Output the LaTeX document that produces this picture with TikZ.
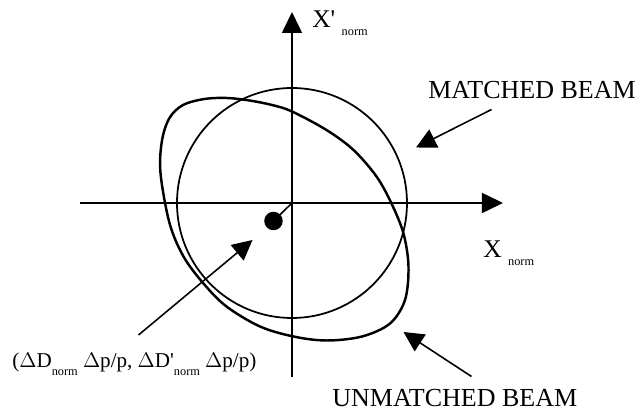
\documentclass[tikz,border=0pt]{standalone}
\usepackage{fontspec}
\setmainfont{Liberation Serif}
\usetikzlibrary{arrows.meta}
\newcommand{\nsub}[1]{\raisebox{-4.5pt}{\fontsize{7}{8}\selectfont #1}}

\begin{document}
\begin{tikzpicture}[
        axis/.style={line width=0.9pt, -{Triangle[length=0.42cm,width=0.4cm]}},
        pointer/.style={line width=0.9pt, -{Triangle[length=0.4cm,width=0.4cm]}},
        lbl/.style={inner sep=0, anchor=base west, font=\fontsize{12}{14}\selectfont},
        axislbl/.style={inner sep=0, anchor=base west, font=\fontsize{14.5}{17}\selectfont},
        beamlbl/.style={inner sep=0, anchor=base west, font=\fontsize{14.8}{17}\selectfont}]
    \useasboundingbox (-5.84,-4.14) rectangle (7.02,4.06);
    % axes
    \coordinate (O) at (0,0);
    \coordinate (xmin) at (-4.24,0);
    \coordinate (xmax) at (4.22,0);
    \coordinate (ymin) at (0,-3.48);
    \coordinate (ymax) at (0,3.82);
    \draw [axis] (xmin) -- (xmax);
    \draw [axis] (ymin) -- (ymax);
    \node [axislbl] (xlabel) at (3.82,-1.1) {X\ \nsub{norm}};
    \node [axislbl] (ylabel) at (0.4,3.5) {X\textquotesingle\ \nsub{norm}};
    % matched beam
    \draw [line width=1pt] (O) circle (2.3);
    % unmatched beam
    \draw [line width=1.4pt] plot [smooth cycle, tension=0.55] coordinates {(-2.63,0.6) (-2.6,1.25) (-2.45,1.7) (-2.18,1.96) (-1.75,2.08) (-1.3,2.1) (-0.85,2.05) (-0.4,1.96) (0,1.83) (0.69,1.46) (1.23,1.06) (1.69,0.53) (1.99,-0.01) (2.23,-0.61) (2.33,-1.27) (2.26,-1.94) (1.96,-2.41) (1.4,-2.67) (0.69,-2.75) (0.03,-2.67) (-0.64,-2.47) (-1.31,-2.07) (-1.77,-1.61) (-2.17,-1.07) (-2.45,-0.4)};
    % dispersion offset
    \node [circle, fill, inner sep=0, minimum size=0.37cm] (dot) at (-0.37,-0.36) {};
    \draw [line width=0.9pt] (dot.center) -- (O);
    % labels and pointers
    \node [beamlbl] (matched) at (2.72,2.08) {MATCHED BEAM};
    \node [beamlbl] (unmatched) at (0.8,-4.08) {UNMATCHED BEAM};
    \node [lbl] (offset) at (-5.6,-3.3) {($\Delta$D\nsub{norm} $\Delta$p/p, $\Delta$D\textquotesingle\nsub{norm} $\Delta$p/p)};
    \coordinate (mtail) at (3.99,1.87);
    \coordinate (mtip) at (2.48,1.11);
    \coordinate (utail) at (3.59,-3.47);
    \coordinate (utip) at (2.23,-2.58);
    \coordinate (otail) at (-3.07,-2.64);
    \coordinate (otip) at (-0.79,-0.74);
    \draw [pointer] (mtail) -- (mtip);
    \draw [pointer] (utail) -- (utip);
    \draw [pointer] (otail) -- (otip);
\end{tikzpicture}
\end{document}
